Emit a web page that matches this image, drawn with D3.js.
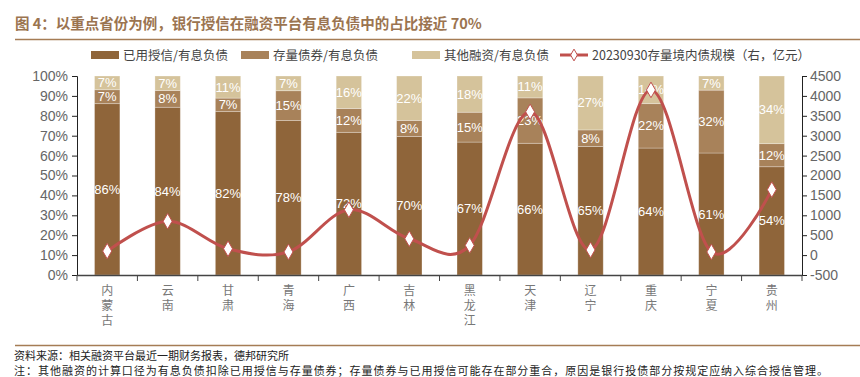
<!DOCTYPE html>
<html>
<head>
<meta charset="utf-8">
<script src="https://cdn.jsdelivr.net/npm/d3@7"></script>
<style>
  body { margin: 0; background: #fff; }
  svg { display: block; font-family: "Liberation Sans", Arial, sans-serif; }
  .cjk { font-family: "Noto Sans CJK SC", sans-serif; }
  .vert { writing-mode: vertical-rl; text-orientation: upright; letter-spacing: 3px; }
</style>
</head>
<body>
<svg id="chart" width="860" height="377"></svg>
<script>
/* chart data */
const provinces = ["内蒙古", "云南", "甘肃", "青海", "广西", "吉林", "黑龙江", "天津", "辽宁", "重庆", "宁夏", "贵州"];
const usedCredit = [86.1, 84.3, 82.1, 77.6, 71.7, 69.6, 66.8, 66.2, 64.6, 63.8, 61.3, 54.4];
const bondShare = [7.0, 8.4, 6.8, 15.0, 12.0, 8.1, 15.0, 22.8, 8.3, 22.3, 31.6, 11.6];
const otherShare = [6.9, 7.3, 11.1, 7.4, 16.3, 22.3, 18.2, 11.0, 27.1, 13.9, 7.1, 34.0];
const bondScale = [100, 850, 160, 80, 1140, 410, 245, 3600, 130, 4150, 80, 1645];
const leftTicks = [0, 10, 20, 30, 40, 50, 60, 70, 80, 90, 100];
const rightTicks = [-500, 0, 500, 1000, 1500, 2000, 2500, 3000, 3500, 4000, 4500];
const seriesNames = ["已用授信/有息负债", "存量债券/有息负债", "其他融资/有息负债", "20230930存量境内债规模（右，亿元）"];
const seriesColors = ["#8f653a", "#a8825a", "#d5c39b", "#c0504d"];

const svg = d3.select("#chart");
const plotLeft = 77, plotRight = 802, plotTop = 76, plotBottom = 275;

// title + rules
svg.append("text").attr("class", "cjk")
  .attr("x", 15).attr("y", 29)
  .attr("font-size", 14.5).attr("font-weight", "bold").attr("fill", "#9b7450")
  .text("图 4：以重点省份为例，银行授信在融资平台有息负债中的占比接近 70%");
svg.append("line").attr("x1", 15).attr("x2", 860).attr("y1", 39.5).attr("y2", 39.5)
  .attr("stroke", "#a57c55").attr("stroke-width", 1.5);
svg.append("line").attr("x1", 15).attr("x2", 860).attr("y1", 345.5).attr("y2", 345.5)
  .attr("stroke", "#a57c55").attr("stroke-width", 1.5);

// scales
const x = d3.scaleBand().domain(provinces).range([plotLeft, plotRight])
  .paddingInner(0.58).paddingOuter(0.29);
const y = d3.scaleLinear().domain([0, 100]).range([plotBottom, plotTop]);
const y2 = d3.scaleLinear().domain([-500, 4500]).range([plotBottom, plotTop]);

// stacked bars
const rows = provinces.map((p, i) => ({ p, a: usedCredit[i], b: bondShare[i], c: otherShare[i] }));
const stack = d3.stack().keys(["a", "b", "c"]).offset(d3.stackOffsetExpand);
const layers = stack(rows);

const g = svg.append("g");
layers.forEach((layer, k) => {
  g.selectAll(null).data(layer).enter().append("rect")
    .attr("x", d => x(d.data.p))
    .attr("width", x.bandwidth())
    .attr("y", d => y(d[1] * 100))
    .attr("height", d => y(d[0] * 100) - y(d[1] * 100))
    .attr("fill", seriesColors[k])
    .attr("stroke", "rgba(255,255,255,0.35)")
    .attr("stroke-width", 0.8);
});
layers.forEach(layer => {
  g.selectAll(null).data(layer).enter().append("text")
    .attr("x", d => x(d.data.p) + x.bandwidth() / 2)
    .attr("y", d => y((d[0] + d[1]) * 50) + 4.5)
    .attr("text-anchor", "middle")
    .attr("font-size", 13).attr("fill", "#fff")
    .text(d => Math.round((d[1] - d[0]) * 100) + "%");
});

// axes
const yAxis = svg.append("g").attr("transform", `translate(${plotLeft},0)`)
  .call(d3.axisLeft(y).tickValues(leftTicks).tickFormat(d => d + "%").tickSizeOuter(0).tickSize(5));
const yAxis2 = svg.append("g").attr("transform", `translate(${plotRight},0)`)
  .call(d3.axisRight(y2).tickValues(rightTicks).tickFormat(d => String(d)).tickSizeOuter(0).tickSize(5));
[yAxis, yAxis2].forEach(ax => {
  ax.select(".domain").attr("stroke", "#222");
  ax.selectAll(".tick line").attr("stroke", "#222");
  ax.selectAll(".tick text").attr("font-size", 14).attr("fill", "#666")
    .attr("font-family", "Liberation Sans, Arial, sans-serif");
});
yAxis.selectAll(".tick text").attr("x", -9);
yAxis2.selectAll(".tick text").attr("x", 8);

// x axis with ticks on band edges
const xg = svg.append("g");
xg.append("line").attr("x1", plotLeft).attr("x2", plotRight).attr("y1", plotBottom + 0.5).attr("y2", plotBottom + 0.5)
  .attr("stroke", "#444").attr("stroke-width", 1.5);
const edges = provinces.map(p => x(p) - x.step() * x.paddingInner() / 2).concat([plotRight]);
xg.selectAll(null).data(edges).enter().append("line")
  .attr("x1", d => d).attr("x2", d => d)
  .attr("y1", plotBottom).attr("y2", plotBottom + 6)
  .attr("stroke", "#444");
// vertical category names
xg.selectAll(null).data(provinces).enter().append("text")
  .attr("class", "cjk vert")
  .attr("x", p => x(p) + x.bandwidth() / 2)
  .attr("y", plotBottom + 9)
  .attr("font-size", 12).attr("fill", "#777")
  .text(p => p);

// line series
const line = d3.line()
  .x((d, i) => x(provinces[i]) + x.bandwidth() / 2)
  .y(d => y2(d))
  .curve(d3.curveCardinal.tension(0));
svg.append("path").datum(bondScale)
  .attr("d", line).attr("fill", "none")
  .attr("stroke", seriesColors[3]).attr("stroke-width", 3);
svg.selectAll(null).data(bondScale).enter().append("path")
  .attr("d", d3.symbol(d3.symbolDiamond, 70))
  .attr("transform", (d, i) => `translate(${x(provinces[i]) + x.bandwidth() / 2},${y2(d)})`)
  .attr("fill", "#fff").attr("stroke", seriesColors[3]).attr("stroke-width", 1);

// legend
const legendX = [91, 241, 412, 560];
const lg = svg.append("g").attr("transform", "translate(0,55)");
seriesNames.forEach((name, i) => {
  if (i < 3) {
    lg.append("rect").attr("x", legendX[i]).attr("y", -4).attr("width", 28).attr("height", 8)
      .attr("fill", seriesColors[i]);
  } else {
    lg.append("line").attr("x1", legendX[i]).attr("x2", legendX[i] + 28).attr("y1", 0).attr("y2", 0)
      .attr("stroke", seriesColors[i]).attr("stroke-width", 3);
    lg.append("path").attr("d", d3.symbol(d3.symbolDiamond, 40))
      .attr("transform", `translate(${legendX[i] + 14},0)`)
      .attr("fill", "#fff").attr("stroke", seriesColors[i]);
  }
  lg.append("text").attr("class", "cjk")
    .attr("x", legendX[i] + 32).attr("y", 4.5)
    .attr("font-size", 12.5).attr("fill", "#444")
    .text(name);
});

// footnotes
svg.append("text").attr("class", "cjk").attr("x", 14).attr("y", 360)
  .attr("font-size", 11).attr("fill", "#222")
  .text("资料来源：相关融资平台最近一期财务报表，德邦研究所");
svg.append("text").attr("class", "cjk").attr("x", 14).attr("y", 375)
  .attr("font-size", 11).attr("fill", "#222").attr("textLength", 814)
  .text("注：其他融资的计算口径为有息负债扣除已用授信与存量债券；存量债券与已用授信可能存在部分重合，原因是银行投债部分按规定应纳入综合授信管理。");
</script>
</body>
</html>
